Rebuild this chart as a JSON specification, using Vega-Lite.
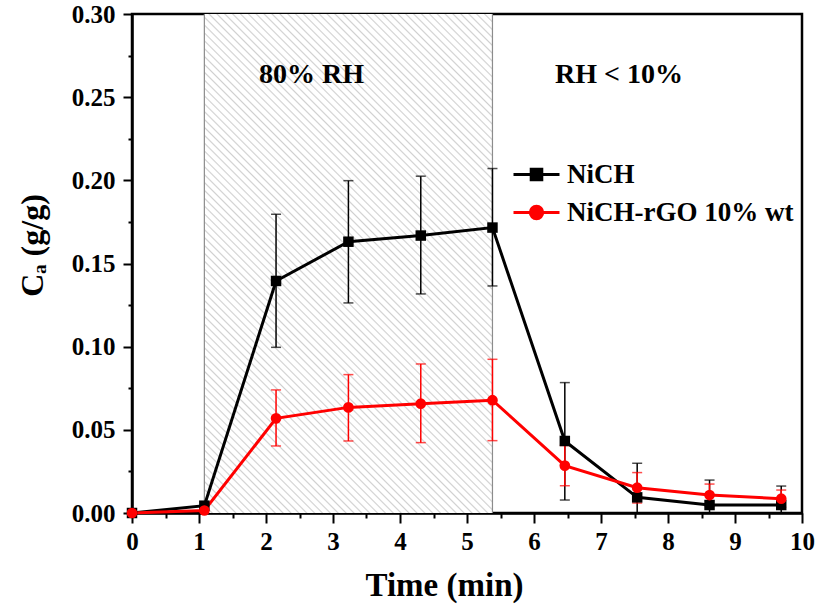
{
  "$schema": "https://vega.github.io/schema/vega-lite/v6.json",
  "width": 670,
  "height": 499,
  "autosize": {"type": "none"},
  "padding": {"left": 132, "top": 14, "right": 18, "bottom": 96},
  "background": "white",
  "config": {
    "view": {"stroke": "black", "strokeWidth": 2.5},
    "font": "Liberation Serif"
  },
  "datasets": {
    "series": [
      {"series": "NiCH", "t": 0, "ca": 0.0, "lo": null, "hi": null},
      {"series": "NiCH", "t": 1.08, "ca": 0.0044, "lo": null, "hi": null},
      {"series": "NiCH", "t": 2.15, "ca": 0.1395, "lo": 0.0996, "hi": 0.1796},
      {"series": "NiCH", "t": 3.23, "ca": 0.1631, "lo": 0.1263, "hi": 0.1998},
      {"series": "NiCH", "t": 4.31, "ca": 0.1668, "lo": 0.1317, "hi": 0.2025},
      {"series": "NiCH", "t": 5.38, "ca": 0.1716, "lo": 0.1365, "hi": 0.2071},
      {"series": "NiCH", "t": 6.46, "ca": 0.0433, "lo": 0.0078, "hi": 0.0784},
      {"series": "NiCH", "t": 7.54, "ca": 0.0094, "lo": 0.0, "hi": 0.0299},
      {"series": "NiCH", "t": 8.62, "ca": 0.0048, "lo": 0.0, "hi": 0.0198},
      {"series": "NiCH", "t": 9.69, "ca": 0.0048, "lo": 0.0, "hi": 0.0162},
      {"series": "NiCH-rGO 10% wt", "t": 0, "ca": 0.0, "lo": null, "hi": null},
      {"series": "NiCH-rGO 10% wt", "t": 1.08, "ca": 0.0015, "lo": null, "hi": null},
      {"series": "NiCH-rGO 10% wt", "t": 2.15, "ca": 0.0569, "lo": 0.0403, "hi": 0.074},
      {"series": "NiCH-rGO 10% wt", "t": 3.23, "ca": 0.0635, "lo": 0.0433, "hi": 0.0832},
      {"series": "NiCH-rGO 10% wt", "t": 4.31, "ca": 0.0657, "lo": 0.0423, "hi": 0.0896},
      {"series": "NiCH-rGO 10% wt", "t": 5.38, "ca": 0.0678, "lo": 0.0435, "hi": 0.0924},
      {"series": "NiCH-rGO 10% wt", "t": 6.46, "ca": 0.0285, "lo": 0.0164, "hi": 0.0406},
      {"series": "NiCH-rGO 10% wt", "t": 7.54, "ca": 0.0152, "lo": 0.006, "hi": 0.0243},
      {"series": "NiCH-rGO 10% wt", "t": 8.62, "ca": 0.0108, "lo": 0.0042, "hi": 0.0174},
      {"series": "NiCH-rGO 10% wt", "t": 9.69, "ca": 0.0086, "lo": 0.0034, "hi": 0.0138}
    ],
    "zones": [{"t": 1.08, "t2": 5.38, "ca": 0, "ca2": 0.3}],
    "bounds": [{"t": 1.08, "ca": 0, "ca2": 0.3}, {"t": 5.38, "ca": 0, "ca2": 0.3}],
    "notes": [
      {"t": 2.68, "ca": 0.2634, "text": "80% RH"},
      {"t": 7.27, "ca": 0.2634, "text": "RH < 10%"}
    ]
  },
  "encoding": {
    "x": {
      "field": "t",
      "type": "quantitative",
      "scale": {"domain": [0, 10], "nice": false, "zero": false},
      "axis": {
        "title": "Time (min)",
        "values": [0, 0.5, 1, 1.5, 2, 2.5, 3, 3.5, 4, 4.5, 5, 5.5, 6, 6.5, 7, 7.5, 8, 8.5, 9, 9.5, 10],
        "labelExpr": "datum.value % 1 === 0 ? format(datum.value, 'd') : ''",
        "tickSize": {"condition": {"test": "datum.value % 1 !== 0", "value": 5}, "value": 10},
        "tickWidth": 2,
        "tickColor": "black",
        "domainColor": "black",
        "domainWidth": 2.5,
        "grid": false,
        "labelFont": "Liberation Serif",
        "labelFontSize": 25,
        "labelFontWeight": "bold",
        "labelColor": "black",
        "labelPadding": 6,
        "labelFlush": false,
        "labelOverlap": false,
        "titleFont": "Liberation Serif",
        "titleFontSize": 33,
        "titleFontWeight": "bold",
        "titleColor": "black",
        "titleBaseline": "middle",
        "titleX": 312,
        "titleY": 72
      }
    },
    "y": {
      "field": "ca",
      "type": "quantitative",
      "scale": {"domain": [0, 0.3], "nice": false},
      "axis": {
        "title": "Cₐ (g/g)",
        "values": [0, 0.025, 0.05, 0.075, 0.1, 0.125, 0.15, 0.175, 0.2, 0.225, 0.25, 0.275, 0.3],
        "labelExpr": "round(datum.value * 40) % 2 === 0 ? format(datum.value, '.2f') : ''",
        "tickSize": {"condition": {"test": "round(datum.value * 40) % 2 !== 0", "value": 4}, "value": 9},
        "tickWidth": 2,
        "tickColor": "black",
        "domainColor": "black",
        "domainWidth": 2.5,
        "grid": false,
        "labelFont": "Liberation Serif",
        "labelFontSize": 25,
        "labelFontWeight": "bold",
        "labelColor": "black",
        "labelPadding": 8,
        "labelFlush": false,
        "labelOverlap": false,
        "titleFont": "Liberation Serif",
        "titleFontSize": 32,
        "titleFontWeight": "bold",
        "titleColor": "black",
        "titleBaseline": "middle",
        "titleX": -100,
        "titleY": 231
      }
    }
  },
  "layer": [
    {
      "data": {"name": "zones"},
      "mark": {
        "type": "rect",
        "strokeWidth": 0,
        "fill": {
          "gradient": "linear",
          "x1": 0, "y1": 1, "x2": 0.683, "y2": -0.183,
          "stops": [
            {"offset":0,"color":"#d0d0d0"},{"offset":0.002,"color":"#fff"},{"offset":0.008,"color":"#fff"},{"offset":0.01,"color":"#d0d0d0"},{"offset":0.012,"color":"#fff"},{"offset":0.018,"color":"#fff"},{"offset":0.02,"color":"#d0d0d0"},{"offset":0.022,"color":"#fff"},{"offset":0.028,"color":"#fff"},{"offset":0.03,"color":"#d0d0d0"},{"offset":0.032,"color":"#fff"},{"offset":0.038,"color":"#fff"},{"offset":0.04,"color":"#d0d0d0"},{"offset":0.042,"color":"#fff"},{"offset":0.048,"color":"#fff"},
            {"offset":0.05,"color":"#d0d0d0"},{"offset":0.052,"color":"#fff"},{"offset":0.058,"color":"#fff"},{"offset":0.06,"color":"#d0d0d0"},{"offset":0.062,"color":"#fff"},{"offset":0.068,"color":"#fff"},{"offset":0.07,"color":"#d0d0d0"},{"offset":0.072,"color":"#fff"},{"offset":0.078,"color":"#fff"},{"offset":0.08,"color":"#d0d0d0"},{"offset":0.082,"color":"#fff"},{"offset":0.088,"color":"#fff"},{"offset":0.09,"color":"#d0d0d0"},{"offset":0.092,"color":"#fff"},{"offset":0.098,"color":"#fff"},
            {"offset":0.1,"color":"#d0d0d0"},{"offset":0.102,"color":"#fff"},{"offset":0.108,"color":"#fff"},{"offset":0.11,"color":"#d0d0d0"},{"offset":0.112,"color":"#fff"},{"offset":0.118,"color":"#fff"},{"offset":0.12,"color":"#d0d0d0"},{"offset":0.122,"color":"#fff"},{"offset":0.128,"color":"#fff"},{"offset":0.13,"color":"#d0d0d0"},{"offset":0.132,"color":"#fff"},{"offset":0.138,"color":"#fff"},{"offset":0.14,"color":"#d0d0d0"},{"offset":0.142,"color":"#fff"},{"offset":0.148,"color":"#fff"},
            {"offset":0.15,"color":"#d0d0d0"},{"offset":0.152,"color":"#fff"},{"offset":0.158,"color":"#fff"},{"offset":0.16,"color":"#d0d0d0"},{"offset":0.162,"color":"#fff"},{"offset":0.168,"color":"#fff"},{"offset":0.17,"color":"#d0d0d0"},{"offset":0.172,"color":"#fff"},{"offset":0.178,"color":"#fff"},{"offset":0.18,"color":"#d0d0d0"},{"offset":0.182,"color":"#fff"},{"offset":0.188,"color":"#fff"},{"offset":0.19,"color":"#d0d0d0"},{"offset":0.192,"color":"#fff"},{"offset":0.198,"color":"#fff"},
            {"offset":0.2,"color":"#d0d0d0"},{"offset":0.202,"color":"#fff"},{"offset":0.208,"color":"#fff"},{"offset":0.21,"color":"#d0d0d0"},{"offset":0.212,"color":"#fff"},{"offset":0.218,"color":"#fff"},{"offset":0.22,"color":"#d0d0d0"},{"offset":0.222,"color":"#fff"},{"offset":0.228,"color":"#fff"},{"offset":0.23,"color":"#d0d0d0"},{"offset":0.232,"color":"#fff"},{"offset":0.238,"color":"#fff"},{"offset":0.24,"color":"#d0d0d0"},{"offset":0.242,"color":"#fff"},{"offset":0.248,"color":"#fff"},
            {"offset":0.25,"color":"#d0d0d0"},{"offset":0.252,"color":"#fff"},{"offset":0.258,"color":"#fff"},{"offset":0.26,"color":"#d0d0d0"},{"offset":0.262,"color":"#fff"},{"offset":0.268,"color":"#fff"},{"offset":0.27,"color":"#d0d0d0"},{"offset":0.272,"color":"#fff"},{"offset":0.278,"color":"#fff"},{"offset":0.28,"color":"#d0d0d0"},{"offset":0.282,"color":"#fff"},{"offset":0.288,"color":"#fff"},{"offset":0.29,"color":"#d0d0d0"},{"offset":0.292,"color":"#fff"},{"offset":0.298,"color":"#fff"},
            {"offset":0.3,"color":"#d0d0d0"},{"offset":0.302,"color":"#fff"},{"offset":0.308,"color":"#fff"},{"offset":0.31,"color":"#d0d0d0"},{"offset":0.312,"color":"#fff"},{"offset":0.318,"color":"#fff"},{"offset":0.32,"color":"#d0d0d0"},{"offset":0.322,"color":"#fff"},{"offset":0.328,"color":"#fff"},{"offset":0.33,"color":"#d0d0d0"},{"offset":0.332,"color":"#fff"},{"offset":0.338,"color":"#fff"},{"offset":0.34,"color":"#d0d0d0"},{"offset":0.342,"color":"#fff"},{"offset":0.348,"color":"#fff"},
            {"offset":0.35,"color":"#d0d0d0"},{"offset":0.352,"color":"#fff"},{"offset":0.358,"color":"#fff"},{"offset":0.36,"color":"#d0d0d0"},{"offset":0.362,"color":"#fff"},{"offset":0.368,"color":"#fff"},{"offset":0.37,"color":"#d0d0d0"},{"offset":0.372,"color":"#fff"},{"offset":0.378,"color":"#fff"},{"offset":0.38,"color":"#d0d0d0"},{"offset":0.382,"color":"#fff"},{"offset":0.388,"color":"#fff"},{"offset":0.39,"color":"#d0d0d0"},{"offset":0.392,"color":"#fff"},{"offset":0.398,"color":"#fff"},
            {"offset":0.4,"color":"#d0d0d0"},{"offset":0.402,"color":"#fff"},{"offset":0.408,"color":"#fff"},{"offset":0.41,"color":"#d0d0d0"},{"offset":0.412,"color":"#fff"},{"offset":0.418,"color":"#fff"},{"offset":0.42,"color":"#d0d0d0"},{"offset":0.422,"color":"#fff"},{"offset":0.428,"color":"#fff"},{"offset":0.43,"color":"#d0d0d0"},{"offset":0.432,"color":"#fff"},{"offset":0.438,"color":"#fff"},{"offset":0.44,"color":"#d0d0d0"},{"offset":0.442,"color":"#fff"},{"offset":0.448,"color":"#fff"},
            {"offset":0.45,"color":"#d0d0d0"},{"offset":0.452,"color":"#fff"},{"offset":0.458,"color":"#fff"},{"offset":0.46,"color":"#d0d0d0"},{"offset":0.462,"color":"#fff"},{"offset":0.468,"color":"#fff"},{"offset":0.47,"color":"#d0d0d0"},{"offset":0.472,"color":"#fff"},{"offset":0.478,"color":"#fff"},{"offset":0.48,"color":"#d0d0d0"},{"offset":0.482,"color":"#fff"},{"offset":0.488,"color":"#fff"},{"offset":0.49,"color":"#d0d0d0"},{"offset":0.492,"color":"#fff"},{"offset":0.498,"color":"#fff"},
            {"offset":0.5,"color":"#d0d0d0"},{"offset":0.502,"color":"#fff"},{"offset":0.508,"color":"#fff"},{"offset":0.51,"color":"#d0d0d0"},{"offset":0.512,"color":"#fff"},{"offset":0.518,"color":"#fff"},{"offset":0.52,"color":"#d0d0d0"},{"offset":0.522,"color":"#fff"},{"offset":0.528,"color":"#fff"},{"offset":0.53,"color":"#d0d0d0"},{"offset":0.532,"color":"#fff"},{"offset":0.538,"color":"#fff"},{"offset":0.54,"color":"#d0d0d0"},{"offset":0.542,"color":"#fff"},{"offset":0.548,"color":"#fff"},
            {"offset":0.55,"color":"#d0d0d0"},{"offset":0.552,"color":"#fff"},{"offset":0.558,"color":"#fff"},{"offset":0.56,"color":"#d0d0d0"},{"offset":0.562,"color":"#fff"},{"offset":0.568,"color":"#fff"},{"offset":0.57,"color":"#d0d0d0"},{"offset":0.572,"color":"#fff"},{"offset":0.578,"color":"#fff"},{"offset":0.58,"color":"#d0d0d0"},{"offset":0.582,"color":"#fff"},{"offset":0.588,"color":"#fff"},{"offset":0.59,"color":"#d0d0d0"},{"offset":0.592,"color":"#fff"},{"offset":0.598,"color":"#fff"},
            {"offset":0.6,"color":"#d0d0d0"},{"offset":0.602,"color":"#fff"},{"offset":0.608,"color":"#fff"},{"offset":0.61,"color":"#d0d0d0"},{"offset":0.612,"color":"#fff"},{"offset":0.618,"color":"#fff"},{"offset":0.62,"color":"#d0d0d0"},{"offset":0.622,"color":"#fff"},{"offset":0.628,"color":"#fff"},{"offset":0.63,"color":"#d0d0d0"},{"offset":0.632,"color":"#fff"},{"offset":0.638,"color":"#fff"},{"offset":0.64,"color":"#d0d0d0"},{"offset":0.642,"color":"#fff"},{"offset":0.648,"color":"#fff"},
            {"offset":0.65,"color":"#d0d0d0"},{"offset":0.652,"color":"#fff"},{"offset":0.658,"color":"#fff"},{"offset":0.66,"color":"#d0d0d0"},{"offset":0.662,"color":"#fff"},{"offset":0.668,"color":"#fff"},{"offset":0.67,"color":"#d0d0d0"},{"offset":0.672,"color":"#fff"},{"offset":0.678,"color":"#fff"},{"offset":0.68,"color":"#d0d0d0"},{"offset":0.682,"color":"#fff"},{"offset":0.688,"color":"#fff"},{"offset":0.69,"color":"#d0d0d0"},{"offset":0.692,"color":"#fff"},{"offset":0.698,"color":"#fff"},
            {"offset":0.7,"color":"#d0d0d0"},{"offset":0.702,"color":"#fff"},{"offset":0.708,"color":"#fff"},{"offset":0.71,"color":"#d0d0d0"},{"offset":0.712,"color":"#fff"},{"offset":0.718,"color":"#fff"},{"offset":0.72,"color":"#d0d0d0"},{"offset":0.722,"color":"#fff"},{"offset":0.728,"color":"#fff"},{"offset":0.73,"color":"#d0d0d0"},{"offset":0.732,"color":"#fff"},{"offset":0.738,"color":"#fff"},{"offset":0.74,"color":"#d0d0d0"},{"offset":0.742,"color":"#fff"},{"offset":0.748,"color":"#fff"},
            {"offset":0.75,"color":"#d0d0d0"},{"offset":0.752,"color":"#fff"},{"offset":0.758,"color":"#fff"},{"offset":0.76,"color":"#d0d0d0"},{"offset":0.762,"color":"#fff"},{"offset":0.768,"color":"#fff"},{"offset":0.77,"color":"#d0d0d0"},{"offset":0.772,"color":"#fff"},{"offset":0.778,"color":"#fff"},{"offset":0.78,"color":"#d0d0d0"},{"offset":0.782,"color":"#fff"},{"offset":0.788,"color":"#fff"},{"offset":0.79,"color":"#d0d0d0"},{"offset":0.792,"color":"#fff"},{"offset":0.798,"color":"#fff"},
            {"offset":0.8,"color":"#d0d0d0"},{"offset":0.802,"color":"#fff"},{"offset":0.808,"color":"#fff"},{"offset":0.81,"color":"#d0d0d0"},{"offset":0.812,"color":"#fff"},{"offset":0.818,"color":"#fff"},{"offset":0.82,"color":"#d0d0d0"},{"offset":0.822,"color":"#fff"},{"offset":0.828,"color":"#fff"},{"offset":0.83,"color":"#d0d0d0"},{"offset":0.832,"color":"#fff"},{"offset":0.838,"color":"#fff"},{"offset":0.84,"color":"#d0d0d0"},{"offset":0.842,"color":"#fff"},{"offset":0.848,"color":"#fff"},
            {"offset":0.85,"color":"#d0d0d0"},{"offset":0.852,"color":"#fff"},{"offset":0.858,"color":"#fff"},{"offset":0.86,"color":"#d0d0d0"},{"offset":0.862,"color":"#fff"},{"offset":0.868,"color":"#fff"},{"offset":0.87,"color":"#d0d0d0"},{"offset":0.872,"color":"#fff"},{"offset":0.878,"color":"#fff"},{"offset":0.88,"color":"#d0d0d0"},{"offset":0.882,"color":"#fff"},{"offset":0.888,"color":"#fff"},{"offset":0.89,"color":"#d0d0d0"},{"offset":0.892,"color":"#fff"},{"offset":0.898,"color":"#fff"},
            {"offset":0.9,"color":"#d0d0d0"},{"offset":0.902,"color":"#fff"},{"offset":0.908,"color":"#fff"},{"offset":0.91,"color":"#d0d0d0"},{"offset":0.912,"color":"#fff"},{"offset":0.918,"color":"#fff"},{"offset":0.92,"color":"#d0d0d0"},{"offset":0.922,"color":"#fff"},{"offset":0.928,"color":"#fff"},{"offset":0.93,"color":"#d0d0d0"},{"offset":0.932,"color":"#fff"},{"offset":0.938,"color":"#fff"},{"offset":0.94,"color":"#d0d0d0"},{"offset":0.942,"color":"#fff"},{"offset":0.948,"color":"#fff"},
            {"offset":0.95,"color":"#d0d0d0"},{"offset":0.952,"color":"#fff"},{"offset":0.958,"color":"#fff"},{"offset":0.96,"color":"#d0d0d0"},{"offset":0.962,"color":"#fff"},{"offset":0.968,"color":"#fff"},{"offset":0.97,"color":"#d0d0d0"},{"offset":0.972,"color":"#fff"},{"offset":0.978,"color":"#fff"},{"offset":0.98,"color":"#d0d0d0"},{"offset":0.982,"color":"#fff"},{"offset":0.988,"color":"#fff"},{"offset":0.99,"color":"#d0d0d0"},{"offset":0.992,"color":"#fff"},{"offset":0.998,"color":"#fff"},
            {"offset":1,"color":"#d0d0d0"}
          ]
        }
      },
      "encoding": {
        "x2": {"field": "t2"},
        "y2": {"field": "ca2"}
      }
    },
    {
      "data": {"name": "bounds"},
      "mark": {"type": "rule", "color": "#8c8c8c", "strokeWidth": 1.2},
      "encoding": {
        "y2": {"field": "ca2"}
      }
    },
    {
      "data": {"name": "series"},
      "transform": [{"filter": "datum.lo != null"}],
      "mark": {"type": "rule", "strokeWidth": 1.5},
      "encoding": {
        "y": {"field": "lo", "type": "quantitative"},
        "y2": {"field": "hi"},
        "color": {"field": "series", "type": "nominal"}
      }
    },
    {
      "data": {"name": "series"},
      "transform": [{"filter": "datum.lo != null"}],
      "mark": {"type": "tick", "orient": "horizontal", "size": 10, "thickness": 1.5},
      "encoding": {
        "y": {"field": "lo", "type": "quantitative"},
        "color": {"field": "series", "type": "nominal"}
      }
    },
    {
      "data": {"name": "series"},
      "transform": [{"filter": "datum.lo != null"}],
      "mark": {"type": "tick", "orient": "horizontal", "size": 10, "thickness": 1.5},
      "encoding": {
        "y": {"field": "hi", "type": "quantitative"},
        "color": {"field": "series", "type": "nominal"}
      }
    },
    {
      "data": {"name": "series"},
      "mark": {"type": "line", "strokeWidth": 3},
      "encoding": {
        "color": {
          "field": "series",
          "type": "nominal",
          "scale": {"domain": ["NiCH", "NiCH-rGO 10% wt"], "range": ["#000000", "#ff0000"]},
          "legend": {
            "orient": "none",
            "legendX": 380,
            "legendY": 136,
            "title": null,
            "padding": 0,
            "symbolSize": 2116,
            "symbolStrokeWidth": 3,
            "labelFontSize": 27,
            "labelFont": "Liberation Serif",
            "labelFontWeight": "bold",
            "labelColor": "black",
            "labelOffset": 6,
            "labelLimit": 400,
            "rowPadding": -11,
            "encode": {
              "symbols": {
                "update": {
                  "shape": {"signal": "datum.value === 'NiCH' ? 'M-1,0H1M-0.23,-0.23H0.23V0.23H-0.23Z' : 'M-1,0H1M-0.27,0A0.27,0.27,0,1,0,0.27,0A0.27,0.27,0,1,0,-0.27,0Z'"},
                  "fill": {"signal": "datum.value === 'NiCH' ? '#000000' : '#ff0000'"},
                  "stroke": {"signal": "datum.value === 'NiCH' ? '#000000' : '#ff0000'"},
                  "opacity": {"value": 1}
                }
              }
            }
          }
        }
      }
    },
    {
      "data": {"name": "series"},
      "transform": [{"filter": "datum.series === 'NiCH'"}],
      "mark": {"type": "point", "shape": "square", "filled": true, "size": 110, "opacity": 1},
      "encoding": {
        "color": {"field": "series", "type": "nominal"}
      }
    },
    {
      "data": {"name": "series"},
      "transform": [{"filter": "datum.series !== 'NiCH'"}],
      "mark": {"type": "point", "shape": "circle", "filled": true, "size": 115, "opacity": 1},
      "encoding": {
        "color": {"field": "series", "type": "nominal"}
      }
    },
    {
      "data": {"name": "notes"},
      "mark": {"type": "text", "fontSize": 28, "fontWeight": "bold", "font": "Liberation Serif", "color": "black", "align": "center", "baseline": "middle"},
      "encoding": {
        "text": {"field": "text", "type": "nominal"}
      }
    }
  ]
}
